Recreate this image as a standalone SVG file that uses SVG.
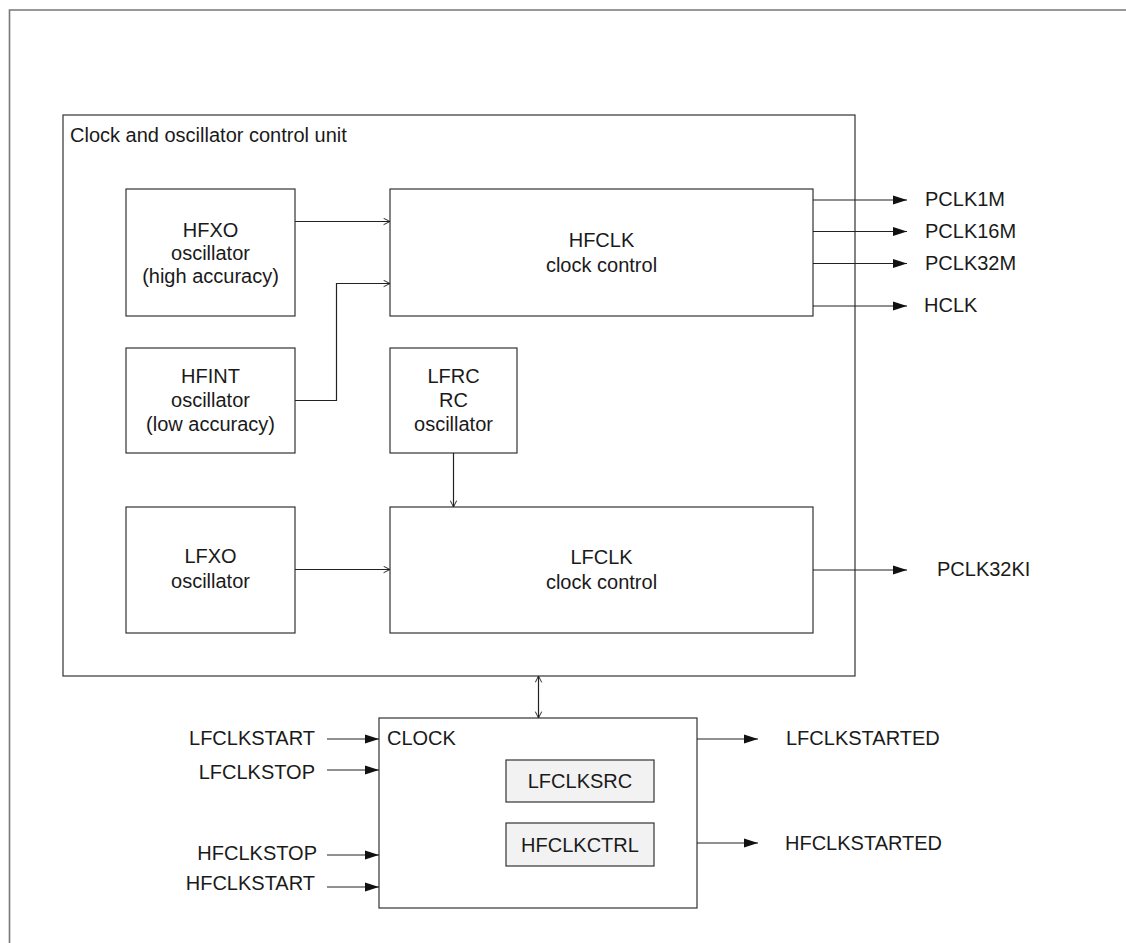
<svg xmlns="http://www.w3.org/2000/svg" width="1126" height="943" viewBox="0 0 1126 943">
<style>
text{font-family:"Liberation Sans",Arial,sans-serif;font-size:20px;fill:#1a1a1a}
.c{text-anchor:middle}
.r{text-anchor:end}
.box{fill:#fff;stroke:#333;stroke-width:1.2}
.reg{fill:#f2f2f2;stroke:#333;stroke-width:1.2}
.ln{fill:none;stroke:#222;stroke-width:1.2}
</style>
<defs>
<marker id="open" viewBox="0 0 10 10" refX="9" refY="5" markerWidth="8" markerHeight="8" markerUnits="userSpaceOnUse" orient="auto-start-reverse">
<path d="M1,1 L9,5 L1,9" fill="none" stroke="#222" stroke-width="1.2"/>
</marker>
<marker id="fill" viewBox="0 0 14 10" refX="14" refY="5" markerWidth="14" markerHeight="10" markerUnits="userSpaceOnUse" orient="auto">
<path d="M0,0.5 L14,5 L0,9.5 Z" fill="#111"/>
</marker>
</defs>
<rect width="1126" height="943" fill="#fff"/>
<path d="M9.5,943 V10 H1126" fill="none" stroke="#777" stroke-width="1.6"/>

<g id="control-unit">
<rect class="box" x="63" y="115" width="792" height="561"/>
<text x="70" y="142">Clock and oscillator control unit</text>
</g>

<g id="hfxo">
<rect class="box" x="126" y="189" width="169" height="127"/>
<text class="c" x="210.5" y="237">HFXO</text>
<text class="c" x="210.5" y="260">oscillator</text>
<text class="c" x="210.5" y="283">(high accuracy)</text>
</g>

<g id="hfint">
<rect class="box" x="126" y="348" width="169" height="105"/>
<text class="c" x="210.5" y="383">HFINT</text>
<text class="c" x="210.5" y="407">oscillator</text>
<text class="c" x="210.5" y="431">(low accuracy)</text>
</g>

<g id="lfxo">
<rect class="box" x="126" y="507" width="169" height="126"/>
<text class="c" x="210.5" y="563">LFXO</text>
<text class="c" x="210.5" y="588">oscillator</text>
</g>

<g id="hfclk">
<rect class="box" x="390" y="189" width="423" height="127"/>
<text class="c" x="601.5" y="247">HFCLK</text>
<text class="c" x="601.5" y="272">clock control</text>
</g>

<g id="lfrc">
<rect class="box" x="390" y="348" width="127" height="105"/>
<text class="c" x="453.5" y="383">LFRC</text>
<text class="c" x="453.5" y="407">RC</text>
<text class="c" x="453.5" y="431">oscillator</text>
</g>

<g id="lfclk">
<rect class="box" x="390" y="507" width="423" height="126"/>
<text class="c" x="601.5" y="564">LFCLK</text>
<text class="c" x="601.5" y="589">clock control</text>
</g>

<g id="clock">
<rect class="box" x="379" y="718" width="318" height="190"/>
<text x="387" y="745">CLOCK</text>
</g>

<g id="lfclksrc">
<rect class="reg" x="506" y="760" width="148" height="42"/>
<text class="c" x="580" y="788">LFCLKSRC</text>
</g>

<g id="hfclkctrl">
<rect class="reg" x="506" y="823" width="148" height="43"/>
<text class="c" x="580" y="852">HFCLKCTRL</text>
</g>

<g id="connectors">
<path class="ln" d="M295,221.5 H390" marker-end="url(#open)"/>
<path class="ln" d="M295,400.5 H336.5 V283.5 H390" marker-end="url(#open)"/>
<path class="ln" d="M295,569.5 H390" marker-end="url(#open)"/>
<path class="ln" d="M453.5,453 V507" marker-end="url(#open)"/>
<path class="ln" d="M538.5,676 V718" marker-start="url(#open)" marker-end="url(#open)"/>
<path class="ln" d="M813,200 H907" marker-end="url(#fill)"/>
<path class="ln" d="M813,231.5 H907" marker-end="url(#fill)"/>
<path class="ln" d="M813,263.5 H907" marker-end="url(#fill)"/>
<path class="ln" d="M813,306 H907" marker-end="url(#fill)"/>
<path class="ln" d="M813,570 H907" marker-end="url(#fill)"/>
<path class="ln" d="M327,739 H379" marker-end="url(#fill)"/>
<path class="ln" d="M327,770 H379" marker-end="url(#fill)"/>
<path class="ln" d="M327,855 H379" marker-end="url(#fill)"/>
<path class="ln" d="M327,887 H379" marker-end="url(#fill)"/>
<path class="ln" d="M697,739 H758" marker-end="url(#fill)"/>
<path class="ln" d="M697,843 H758" marker-end="url(#fill)"/>
</g>

<g id="labels">
<text x="925" y="206">PCLK1M</text>
<text x="925" y="238">PCLK16M</text>
<text x="925" y="270">PCLK32M</text>
<text x="924" y="312">HCLK</text>
<text x="937" y="576">PCLK32KI</text>
<text class="r" x="315" y="745">LFCLKSTART</text>
<text class="r" x="315" y="779">LFCLKSTOP</text>
<text class="r" x="317" y="860">HFCLKSTOP</text>
<text class="r" x="315" y="890">HFCLKSTART</text>
<text x="786" y="745">LFCLKSTARTED</text>
<text x="785" y="850">HFCLKSTARTED</text>
</g>
</svg>
